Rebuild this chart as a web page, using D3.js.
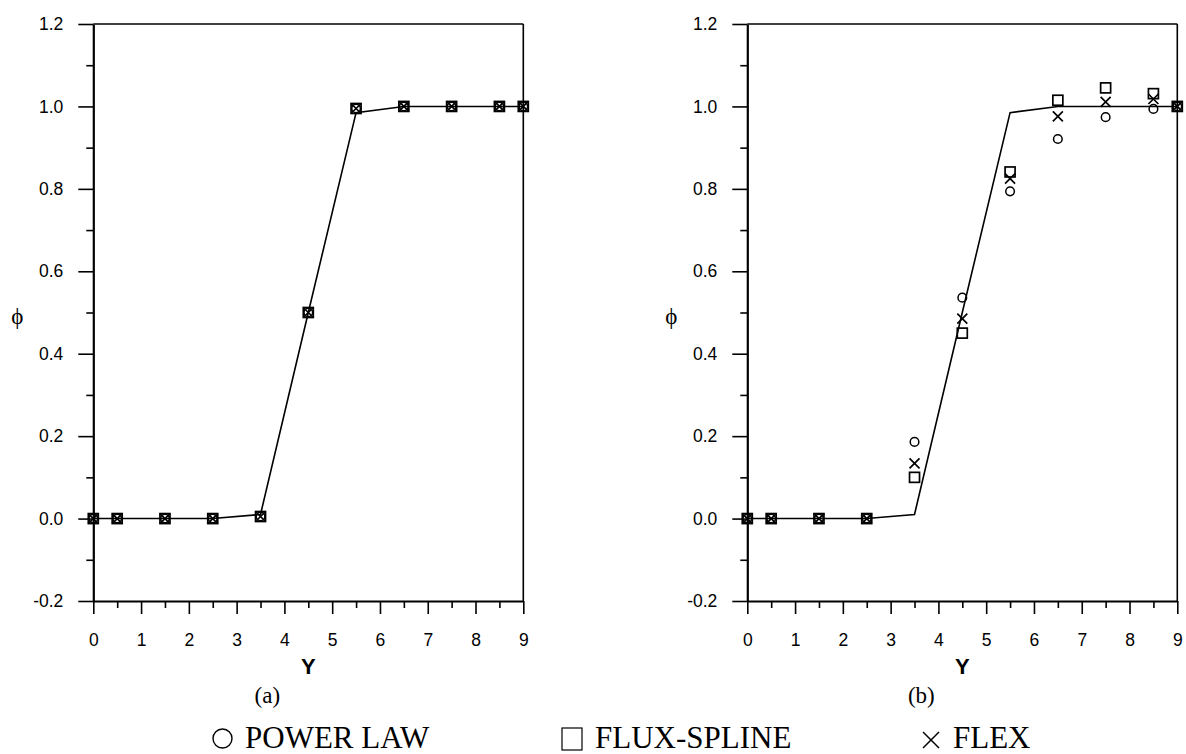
<!DOCTYPE html>
<html>
<head>
<meta charset="utf-8">
<script src="https://cdn.jsdelivr.net/npm/d3@7"></script>
<style>
  html, body { margin: 0; padding: 0; background: #fff; }
  svg { display: block; }
</style>
</head>
<body>
<svg id="chart" width="1186" height="754"></svg>
<script>
// ---- data ----
const yPositions = [0, 0.5, 1.5, 2.5, 3.5, 4.5, 5.5, 6.5, 7.5, 8.5, 9];
const exactLine = [0, 0, 0, 0, 0.01, 0.5, 0.985, 1, 1, 1, 1];

// panel (a)
const aPowerLaw   = [0, 0, 0, 0, 0.005, 0.5, 0.995, 1, 1, 1, 1];
const aFluxSpline = [0, 0, 0, 0, 0.005, 0.5, 0.995, 1, 1, 1, 1];
const aFlex       = [0, 0, 0, 0, 0.005, 0.5, 0.995, 1, 1, 1, 1];

// panel (b)
const bPowerLaw   = [0, 0, 0, 0, 0.186, 0.536, 0.794, 0.921, 0.974, 0.994, 1];
const bFluxSpline = [0, 0, 0, 0, 0.100, 0.450, 0.841, 1.015, 1.045, 1.031, 1];
const bFlex       = [0, 0, 0, 0, 0.134, 0.485, 0.825, 0.976, 1.011, 1.018, 1];

const xMajorTicks = [0, 1, 2, 3, 4, 5, 6, 7, 8, 9];
const xMinorTicks = [0.5, 1.5, 2.5, 3.5, 4.5, 5.5, 6.5, 7.5, 8.5];
const yMajorTicks = [-0.2, 0, 0.2, 0.4, 0.6, 0.8, 1.0, 1.2];
const yTickLabels = ["-0.2", "0.0", "0.2", "0.4", "0.6", "0.8", "1.0", "1.2"];
const yMinorTicks = [-0.1, 0.1, 0.3, 0.5, 0.7, 0.9, 1.1];
const panelLabels = ["(a)", "(b)"];
const legendNames = ["POWER LAW", "FLUX-SPLINE", "FLEX"];

// ---- layout ----
const svg = d3.select("#chart");
const yTop = 24, yBottom = 601;
const panels = [
  { x0: 93.3, x1: 523.3, label: panelLabels[0], power: aPowerLaw, flux: aFluxSpline, flex: aFlex },
  { x0: 747.3, x1: 1177.3, label: panelLabels[1], power: bPowerLaw, flux: bFluxSpline, flex: bFlex }
];
const sansFont = "'Liberation Sans', Arial, sans-serif";
const serifFont = "'Liberation Serif', 'Times New Roman', serif";

panels.forEach(p => {
  const x = d3.scaleLinear().domain([0, 9]).range([p.x0, p.x1]);
  const y = d3.scaleLinear().domain([-0.2, 1.2]).range([yBottom, yTop]);
  const g = svg.append("g");

  // frame: top and right
  g.append("line").attr("x1", p.x0).attr("x2", p.x1).attr("y1", yTop).attr("y2", yTop)
    .attr("stroke", "#000").attr("stroke-width", 1.6);
  g.append("line").attr("x1", p.x1).attr("x2", p.x1).attr("y1", yTop).attr("y2", yBottom)
    .attr("stroke", "#000").attr("stroke-width", 1.6);

  // y axis
  g.append("g").attr("transform", `translate(${p.x0},0)`)
    .call(d3.axisLeft(y).tickValues(yMajorTicks).tickSize(15).tickSizeOuter(0).tickPadding(15)
      .tickFormat((d, i) => yTickLabels[i]));
  g.append("g").attr("transform", `translate(${p.x0},0)`)
    .call(d3.axisLeft(y).tickValues(yMinorTicks).tickSize(7).tickSizeOuter(0).tickFormat(""))
    .select(".domain").remove();

  // x axis
  g.append("g").attr("transform", `translate(0,${yBottom})`)
    .call(d3.axisBottom(x).tickValues(xMajorTicks).tickSize(13).tickSizeOuter(0).tickPadding(20)
      .tickFormat(d3.format("d")));
  g.append("g").attr("transform", `translate(0,${yBottom})`)
    .call(d3.axisBottom(x).tickValues(xMinorTicks).tickSize(7).tickSizeOuter(0).tickFormat(""))
    .select(".domain").remove();

  g.selectAll(".domain").attr("stroke", "#000").attr("stroke-width", 2.2);
  g.selectAll(".tick line").attr("stroke", "#000").attr("stroke-width", 1.6);
  g.selectAll(".tick text").attr("font-family", sansFont).attr("font-size", 17.5).attr("fill", "#000");

  // axis titles
  g.append("text").attr("x", (p.x0 + p.x1) / 2).attr("y", 674).attr("text-anchor", "middle")
    .attr("font-family", sansFont).attr("font-weight", "bold").attr("font-size", 22).text("Y");
  g.append("text").attr("x", p.x0 - 76).attr("y", 324).attr("text-anchor", "middle")
    .attr("font-family", serifFont).attr("font-size", 23).text("ϕ");
  g.append("text").attr("x", (p.x0 + p.x1) / 2 - 41).attr("y", 703).attr("text-anchor", "middle")
    .attr("font-family", serifFont).attr("font-size", 23).text(p.label);

  // exact line
  const line = d3.line().x((d, i) => x(yPositions[i])).y(d => y(d));
  g.append("path").datum(exactLine).attr("d", line)
    .attr("fill", "none").attr("stroke", "#000").attr("stroke-width", 1.6);

  // markers
  const sq = 10;
  g.selectAll(".sq").data(p.flux).enter().append("rect")
    .attr("x", (d, i) => x(yPositions[i]) - sq / 2).attr("y", d => y(d) - sq / 2)
    .attr("width", sq).attr("height", sq)
    .attr("fill", "none").attr("stroke", "#000").attr("stroke-width", 1.7);
  g.selectAll(".ci").data(p.power).enter().append("circle")
    .attr("cx", (d, i) => x(yPositions[i])).attr("cy", d => y(d)).attr("r", 4.3)
    .attr("fill", "none").attr("stroke", "#000").attr("stroke-width", 1.5);
  const cr = 5;
  g.selectAll(".cx").data(p.flex).enter().append("path")
    .attr("d", (d, i) => {
      const cx = x(yPositions[i]), cy = y(d);
      return `M${cx - cr},${cy - cr}L${cx + cr},${cy + cr}M${cx - cr},${cy + cr}L${cx + cr},${cy - cr}`;
    })
    .attr("fill", "none").attr("stroke", "#000").attr("stroke-width", 1.7);
});

// ---- legend ----
const lg = svg.append("g");
const legendY = 748;
lg.append("circle").attr("cx", 222.5).attr("cy", 738.5).attr("r", 9.5)
  .attr("fill", "none").attr("stroke", "#000").attr("stroke-width", 1.4);
lg.append("text").attr("x", 245).attr("y", legendY).attr("font-family", serifFont)
  .attr("font-size", 31).text(legendNames[0]);
lg.append("rect").attr("x", 562).attr("y", 728).attr("width", 20).attr("height", 22)
  .attr("fill", "none").attr("stroke", "#000").attr("stroke-width", 1.2);
lg.append("text").attr("x", 595).attr("y", legendY).attr("font-family", serifFont)
  .attr("font-size", 31).text(legendNames[1]);
lg.append("path").attr("d", "M923,732L939,748M923,748L939,732")
  .attr("fill", "none").attr("stroke", "#000").attr("stroke-width", 1.5);
lg.append("text").attr("x", 953).attr("y", legendY).attr("font-family", serifFont)
  .attr("font-size", 31).text(legendNames[2]);
</script>
</body>
</html>
